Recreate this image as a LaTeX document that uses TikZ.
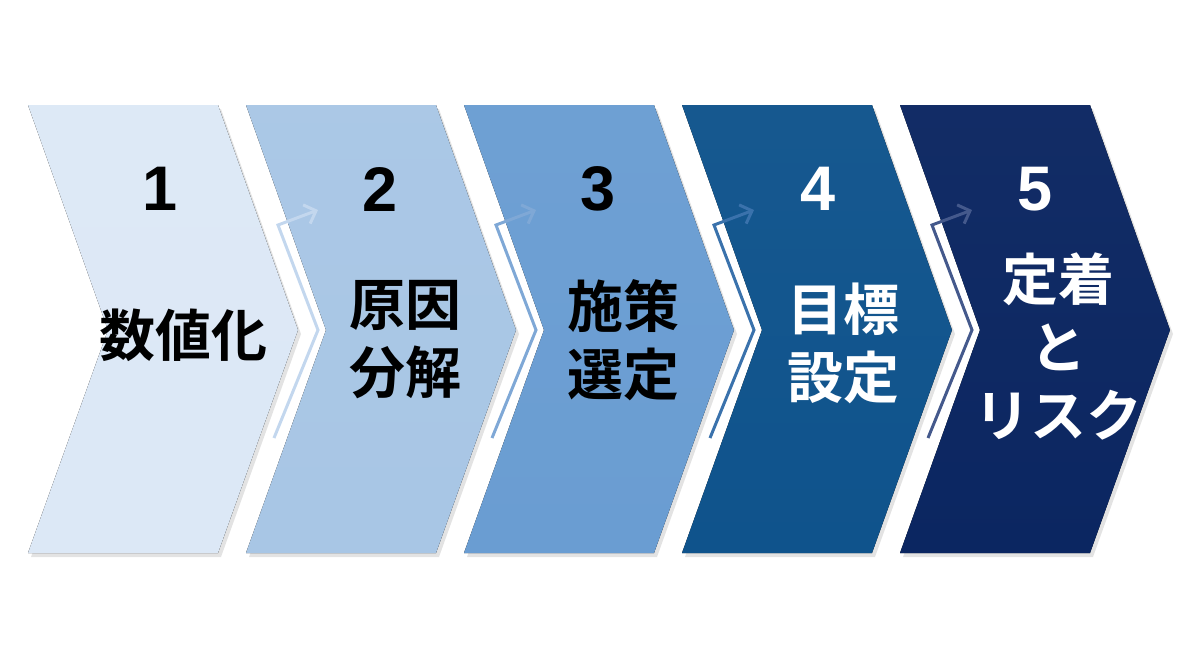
\documentclass[tikz,border=0pt]{standalone}
\usepackage{fontspec}
\setmainfont{Liberation Sans}
\newfontfamily\jpfont{Noto Sans CJK JP Bold}
\usepackage{tikz}
\usetikzlibrary{arrows.meta,shadows}

\definecolor{stepa}{HTML}{DCE8F6}
\definecolor{stepb}{HTML}{A8C6E5}
\definecolor{stepc}{HTML}{6A9DD2}
\definecolor{stepd}{HTML}{0F538C}
\definecolor{stepe}{HTML}{0B2661}
\definecolor{flowa}{HTML}{C3D7EE}
\definecolor{flowb}{HTML}{7FA8D6}
\definecolor{flowc}{HTML}{3A72AC}
\definecolor{flowd}{HTML}{44598C}

\tikzset{
  chevron/.style={drop shadow={opacity=0.22,shadow xshift=1.5pt,shadow yshift=-2pt}},
  num/.style={font=\bfseries\fontsize{31.5}{32}\selectfont, inner sep=0pt},
  steptext/.style={font=\jpfont\fontsize{28}{34}\selectfont, align=center, inner sep=0pt},
  flow/.style={line width=1.5pt, line join=miter,
    -{Straight Barb[length=5pt,width=10pt,line width=1.5pt]}}
}

\begin{document}
\begin{tikzpicture}[x=0.5pt,y=-0.5pt]
    \useasboundingbox (0,0) rectangle (1200,655);

    % Define chevrons
    \foreach \x/\c in {28/stepa,246/stepb,464/stepc,682/stepd,900/stepe}{
      \fill[chevron, top color=\c!97!white, bottom color=\c]
        (\x,105) -- (\x+190,105) -- (\x+270,330) -- (\x+190,553)
        -- (\x,553) -- (\x+80,330) -- cycle;
    }

    % Define nodes
    \node[num]                   (num1)  at (160,189)  {1};
    \node[steptext]              (text1) at (183,335)  {数値化};
    \node[num]                   (num2)  at (380,189)  {2};
    \node[steptext]              (text2) at (405,340)  {原因\\分解};
    \node[num]                   (num3)  at (598,189)  {3};
    \node[steptext]              (text3) at (623,340)  {施策\\選定};
    \node[num, white]            (num4)  at (818,189)  {4};
    \node[steptext, text=white]  (text4) at (843,343)  {目標\\設定};
    \node[num, white]            (num5)  at (1035,189) {5};
    \node[steptext, text=white]  (text5) at (1058,346) {定着\\と\\リスク};

    % Define flow points
    \foreach \k/\x in {2/246,3/464,4/682,5/900}{
      \coordinate (s\k) at (\x+28,438);
      \coordinate (m\k) at (\x+72,330);
      \coordinate (u\k) at (\x+32,225);
      \coordinate (e\k) at (\x+72,210);
    }

    % Connect nodes
    \draw[flow, flowa] (s2) -- (m2) -- (u2) -- (e2);
    \draw[flow, flowb] (s3) -- (m3) -- (u3) -- (e3);
    \draw[flow, flowc] (s4) -- (m4) -- (u4) -- (e4);
    \draw[flow, flowd] (s5) -- (m5) -- (u5) -- (e5);
\end{tikzpicture}
\end{document}
